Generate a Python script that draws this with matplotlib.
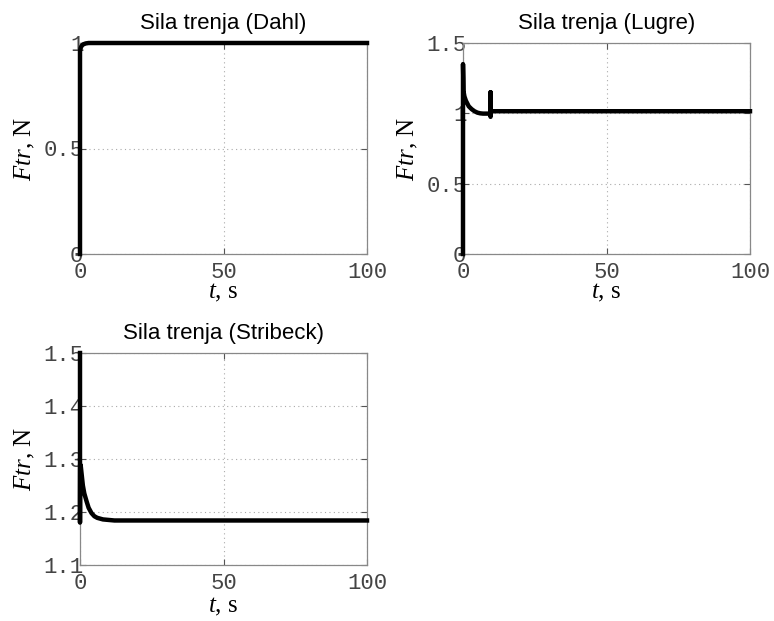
import matplotlib
matplotlib.use("Agg")
import matplotlib.pyplot as plt

plt.rcParams['mathtext.fontset'] = 'custom'
plt.rcParams['mathtext.rm'] = 'Liberation Serif'
plt.rcParams['mathtext.it'] = 'Liberation Serif:italic'

# ---- data ----
dahl_t = [0, 0, 0.2, 0.5, 1, 2, 3, 5, 100]
dahl_f = [0, 0.96, 0.975, 0.985, 0.993, 0.998, 1.0, 1.0, 1.0]

lugre_t = [0, 0, 0.1, 0.15, 0.5, 1, 2, 3, 4, 5, 6, 7, 8, 9.6, 9.6, 9.6, 9.8, 100]
lugre_f = [0, 1.35, 1.25, 1.16, 1.12, 1.09, 1.05, 1.03, 1.015, 1.005, 1.0, 0.998,
           0.998, 0.998, 1.15, 0.975, 1.015, 1.015]

strib_t = [0, 0, 0.05, 0.3, 0.6, 1, 1.5, 2.3, 3, 4, 5, 6, 8, 10, 12, 100]
strib_f = [1.5, 1.18, 1.29, 1.285, 1.27, 1.25, 1.235, 1.22, 1.208, 1.198, 1.192,
           1.189, 1.186, 1.185, 1.184, 1.184]

titles = ["Sila trenja (Dahl)", "Sila trenja (Lugre)", "Sila trenja (Stribeck)"]
xticks = [0, 50, 100]
dahl_yticks = [0, 0.5, 1]
dahl_ylabels = ["0", "0.5", "1"]
lugre_yticks = [0, 0.5, 1, 1.5]
lugre_ylabels = ["0", "0.5", "1", "1.5"]
strib_yticks = [1.1, 1.2, 1.3, 1.4, 1.5]
strib_ylabels = ["1.1", "1.2", "1.3", "1.4", "1.5"]

W, H = 774, 621
fig = plt.figure(figsize=(W / 100, H / 100), dpi=100)


def make_ax(left, top, right, bottom):
    return fig.add_axes([left / W, 1 - bottom / H, (right - left) / W, (bottom - top) / H])


specs = [
    (make_ax(80, 43, 367, 254), dahl_t, dahl_f, (0, 1), dahl_yticks, dahl_ylabels, titles[0], -0.13),
    (make_ax(463, 43, 750, 254), lugre_t, lugre_f, (0, 1.5), lugre_yticks, lugre_ylabels, titles[1], -0.13),
    (make_ax(80, 353, 367, 565), strib_t, strib_f, (1.1, 1.5), strib_yticks, strib_ylabels, titles[2], -0.145),
]

for ax, t, f, ylim, yt, yl, title, xl_y in specs:
    ax.plot(t, f, color='black', linewidth=3.2, solid_joinstyle='round', clip_on=False, zorder=3)
    ax.set_xlim(0, 100)
    ax.set_ylim(*ylim)
    ax.set_xticks(xticks)
    ax.set_xticklabels([str(v) for v in xticks])
    ax.set_yticks(yt)
    ax.set_yticklabels(yl)
    ax.grid(True, linestyle=(0, (1, 3)), color='#aaaaaa', linewidth=0.8)
    ax.tick_params(direction='in', top=True, right=True, length=4, width=0.8,
                   colors='#555555', labelcolor='#444444')
    ax.tick_params(axis='x', pad=6)
    ax.tick_params(axis='y', pad=-2.5)
    for lab in ax.get_xticklabels() + ax.get_yticklabels():
        lab.set_fontfamily('Liberation Mono')
        lab.set_fontsize(16)
    for sp in ax.spines.values():
        sp.set_color('#888888')
        sp.set_linewidth(0.9)
    ax.set_title(title, fontfamily='Liberation Sans', fontsize=16, pad=10)
    ax.set_xlabel(r'$t$, s', fontfamily='Liberation Serif', fontsize=18)
    ax.set_ylabel(r'$Ftr$, N', fontfamily='Liberation Serif', fontsize=18)
    ax.xaxis.set_label_coords(0.5, xl_y)
    ax.yaxis.set_label_coords(-0.15, 0.5)

fig.savefig('out.png', dpi=100)
